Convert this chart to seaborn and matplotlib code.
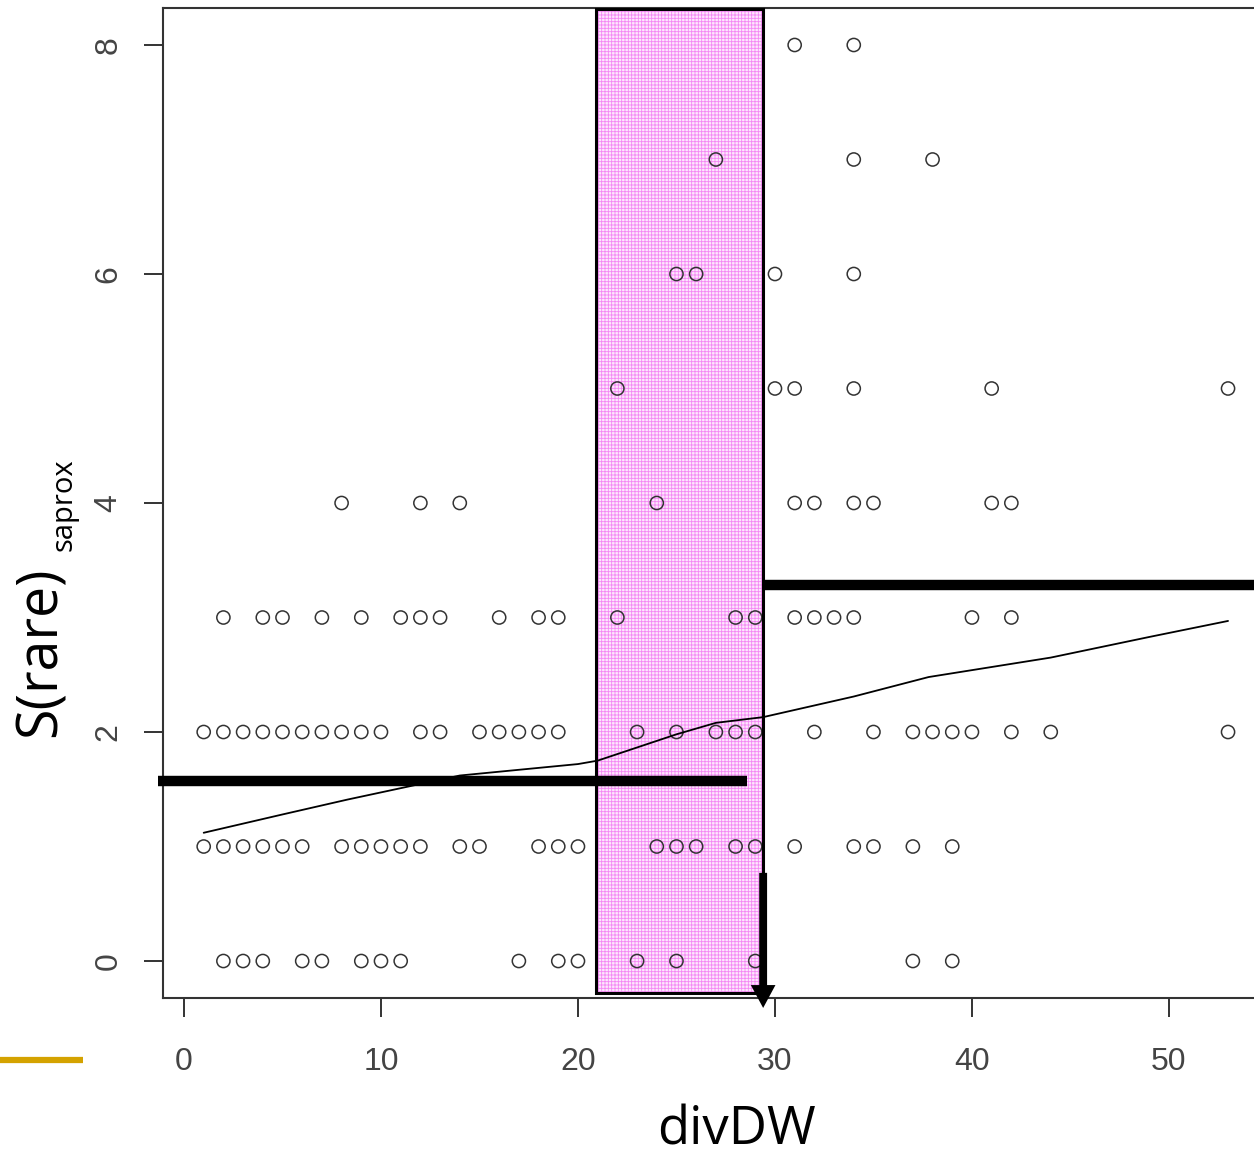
import numpy as np
import pandas as pd
import matplotlib
matplotlib.use("Agg")
import matplotlib.pyplot as plt
from matplotlib import font_manager
from matplotlib.patches import Rectangle, FancyArrow
from matplotlib.lines import Line2D
import seaborn as sns

# ---------------- data ----------------
x_y0 = [2, 3, 4, 6, 7, 9, 10, 11, 17, 19, 20, 23, 25, 29, 37, 39]
x_y1 = [1, 2, 3, 4, 5, 6, 8, 9, 10, 11, 12, 14, 15, 18, 19, 20, 24, 25, 26,
        28, 29, 31, 34, 35, 37, 39]
x_y2 = [1, 2, 3, 4, 5, 6, 7, 8, 9, 10, 12, 13, 15, 16, 17, 18, 19, 23, 25, 27,
        28, 29, 32, 35, 37, 38, 39, 40, 42, 44, 53]
x_y3 = [2, 4, 5, 7, 9, 11, 12, 13, 16, 18, 19, 22, 28, 29, 31, 32, 33, 34, 40, 42]
x_y4 = [8, 12, 14, 24, 31, 32, 34, 35, 41, 42]
x_y5 = [22, 30, 31, 34, 41, 53]
x_y6 = [25, 26, 30, 34]
x_y7 = [27, 34, 38]
x_y8 = [31, 34]
rows = [x_y0, x_y1, x_y2, x_y3, x_y4, x_y5, x_y6, x_y7, x_y8]

smooth_x = [1, 5, 8.3, 14, 20, 21, 25, 27, 29.4, 34, 37.8, 44, 49, 53]
smooth_y = [1.12, 1.28, 1.41, 1.62, 1.72, 1.75, 1.98, 2.08, 2.13, 2.31, 2.48, 2.65, 2.83, 2.97]

band_x = [20.9, 29.4]          # highlighted divDW range
band_y = [-0.28, 8.31]
step1_x = [-1.3, 28.6]; step1_y = 1.57   # group mean levels
step2_x = [29.4, 56.0]; step2_y = 3.28
arrow_x = 29.4; arrow_y = [0.77, -0.41]

x_ticks = [0, 10, 20, 30, 40, 50]
y_ticks = [0, 2, 4, 6, 8]

df = pd.DataFrame({
    "divDW": [x for r in rows for x in r],
    "S": [i for i, r in enumerate(rows) for _ in r],
})
smooth = pd.DataFrame({"divDW": smooth_x, "S": smooth_y})

# ---------------- style ----------------
sns.set_style("white")
avail = {f.name for f in font_manager.fontManager.ttflist}
tick_font = "Liberation Sans Narrow" if "Liberation Sans Narrow" in avail else "Liberation Sans"
label_font = "Open Sans" if "Open Sans" in avail else "DejaVu Sans"
plt.rcParams["font.family"] = [tick_font, "DejaVu Sans"]
plt.rcParams["hatch.linewidth"] = 0.6

W, H = 1254, 1160
fig = plt.figure(figsize=(W / 100, H / 100), dpi=100)
ax = fig.add_axes([163 / W, 162 / H, (1257 - 163) / W, (998 - 8) / H])

# highlighted band
ax.add_patch(Rectangle((band_x[0], band_y[0]), band_x[1] - band_x[0], band_y[1] - band_y[0],
                       facecolor="#fde6fd", edgecolor="#f488f4", hatch="+++++",
                       linewidth=0, zorder=1))
ax.add_patch(Rectangle((band_x[0], band_y[0]), band_x[1] - band_x[0], band_y[1] - band_y[0],
                       facecolor="none", edgecolor="black", linewidth=2.2, zorder=4))

sns.scatterplot(data=df, x="divDW", y="S", ax=ax, marker="o", s=90,
                facecolor="none", edgecolor="#333333", linewidth=1.1, zorder=3)
sns.lineplot(data=smooth, x="divDW", y="S", ax=ax, sort=False, estimator=None,
             color="black", linewidth=1.3, zorder=5)

# group level bars
ax.plot(step1_x, [step1_y, step1_y], color="black", linewidth=7.5,
        solid_capstyle="butt", clip_on=False, zorder=6)
ax.plot(step2_x, [step2_y, step2_y], color="black", linewidth=7.5,
        solid_capstyle="butt", clip_on=False, zorder=6)

# arrow (width in x units, head length in y units for a vertical arrow)
arr = FancyArrow(arrow_x, arrow_y[0], 0, arrow_y[1] - arrow_y[0], width=0.4,
                 head_width=1.25, head_length=0.2, length_includes_head=True,
                 color="black", linewidth=0, clip_on=False, zorder=7)
ax.add_patch(arr)

ax.set_xlim(-1.066, 54.47)
ax.set_ylim(-0.323, 8.323)
ax.set_xticks(x_ticks)
ax.set_yticks(y_ticks)
ax.set_xticklabels([str(t) for t in x_ticks])
ax.set_yticklabels([str(t) for t in y_ticks], rotation=90, va="center")
ax.tick_params(axis="both", direction="out", length=13.5, width=1.4, color="#333333",
               labelsize=23, labelcolor="#444444", left=True, bottom=True)
ax.tick_params(axis="x", pad=22)
ax.tick_params(axis="y", pad=15)
for s in ["left", "bottom", "top"]:
    ax.spines[s].set_color("#333333")
    ax.spines[s].set_linewidth(1.5)
ax.spines["right"].set_visible(False)
ax.set_xlabel("")
ax.set_ylabel("")

# axis titles
fig.text(736 / W, 1 - 1131 / H, "divDW", family=[label_font, "DejaVu Sans"],
         fontsize=38, ha="center", va="center", color="black")
fig.text(41 / W, 1 - 652 / H, "S(rare)", family=[label_font, "DejaVu Sans"],
         fontsize=40, rotation=90, ha="center", va="center", color="black")
fig.text(64 / W, 1 - 505 / H, "saprox", family=[label_font, "DejaVu Sans"],
         fontsize=21, rotation=90, ha="center", va="center", color="black")

# decorative gold rule at bottom left
fig.add_artist(Line2D([0, 83 / W], [1 - 1060 / H, 1 - 1060 / H], color="#d4a200",
                      linewidth=4.5, solid_capstyle="butt", transform=fig.transFigure))

fig.savefig("out.png", dpi=100)
